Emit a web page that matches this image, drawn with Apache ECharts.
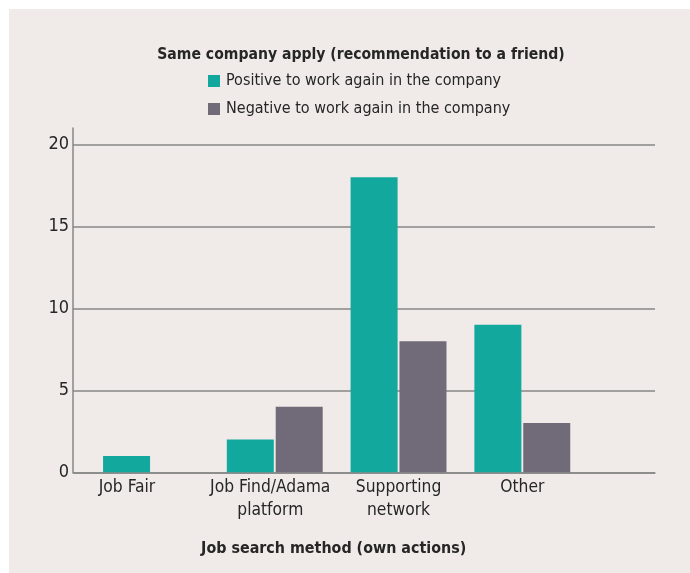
<!DOCTYPE html>
<html>
<head>
<meta charset="utf-8">
<script src="https://cdn.jsdelivr.net/npm/echarts@6/dist/echarts.min.js"></script>
<style>
  html, body { margin: 0; padding: 0; background: #ffffff; }
  #chart { position: absolute; left: 9px; top: 9px; width: 681px; height: 564px; }
</style>
</head>
<body>
<div id="chart"></div>
<script>
// Job search methods on the category axis
const categories = ['Job Fair', 'Job Find/Adama platform', 'Supporting network', 'Other'];
// Respondents counted per answer
const positiveValues = [1, 2, 18, 9];
const negativeValues = [0, 4, 8, 3];
const seriesNames = ['Positive to work again in the company', 'Negative to work again in the company'];
const yTicks = [0, 5, 10, 15, 20];

const FONT = '"DejaVu Sans Condensed", "Liberation Sans", sans-serif';
const TEXT = '#262626';
const GRID_LINE = '#878787';
const TEAL = '#13a89e';
const GREY = '#716a78';

// label wrapping and horizontal nudges for the category labels
const labelLines = {
  'Job Fair': ['Job Fair'],
  'Job Find/Adama platform': ['Job Find/Adama', 'platform'],
  'Supporting network': ['Supporting', 'network'],
  'Other': ['Other']
};
const labelShiftLeft = { 'Job Fair': 48, 'Job Find/Adama platform': 9, 'Supporting network': 0, 'Other': 0 };

const yMax = 21;
const gridTop = 119, gridBottom = 100.7;
const LABEL_SIZE = 17.3;

const chart = echarts.init(document.getElementById('chart'), null, { renderer: 'canvas' });

// one colour per split line; the extra line at the axis top stays hidden
const splitColors = yTicks.map(() => GRID_LINE).concat(['rgba(0,0,0,0)']);

const richLabels = Object.fromEntries(Object.values(labelShiftLeft).map(p => ['t' + p, {
  fontFamily: FONT, fontSize: LABEL_SIZE, color: TEXT, lineHeight: 23, padding: [0, p, 0, 0]
}]));

chart.setOption({
  backgroundColor: '#f0ebe8',
  animation: false,
  textStyle: { fontFamily: FONT },
  title: {
    text: 'Same company apply (recommendation to a friend)',
    left: 352,
    top: 36,
    padding: 0,
    textAlign: 'center',
    textStyle: { fontFamily: FONT, fontSize: 15.6, fontWeight: 'bold', color: TEXT, lineHeight: 20 }
  },
  legend: {
    orient: 'vertical',
    left: 199,
    top: 62,
    padding: 0,
    itemWidth: 12,
    itemHeight: 12,
    itemGap: 8,
    icon: 'rect',
    data: seriesNames,
    textStyle: { fontFamily: FONT, fontSize: 16, color: TEXT, lineHeight: 20, padding: [0, 0, 0, 1] }
  },
  grid: [
    { left: 64, right: 35, top: gridTop, bottom: gridBottom },
    { left: 80.1, right: 105.8, top: gridTop, bottom: gridBottom }
  ],
  xAxis: [
    {
      gridIndex: 0, type: 'value', min: 0, max: 1,
      axisLine: { show: true, lineStyle: { color: GRID_LINE, width: 1.5 } },
      axisTick: { show: false }, axisLabel: { show: false }, splitLine: { show: false }
    },
    {
      gridIndex: 1, type: 'category', data: categories,
      axisLine: { show: false }, axisTick: { show: false },
      axisLabel: {
        margin: 4,
        interval: 0,
        formatter: function (v) {
          const pad = labelShiftLeft[v] || 0;
          return labelLines[v].map(l => '{t' + pad + '|' + l + '}').join('\n');
        },
        rich: richLabels
      },
      name: 'Job search method (own actions)',
      nameLocation: 'middle',
      nameGap: 67,
      nameTextStyle: { fontFamily: FONT, fontSize: 15.9, fontWeight: 'bold', color: TEXT, lineHeight: 20, padding: [0, 6, 0, 0] }
    }
  ],
  yAxis: [
    {
      gridIndex: 0, type: 'value', min: 0, max: yMax, interval: 5,
      axisLine: { show: true, lineStyle: { color: GRID_LINE, width: 1.5 } },
      axisTick: { show: false },
      axisLabel: { showMaxLabel: false, margin: 4, fontFamily: FONT, fontSize: 18, color: TEXT },
      splitLine: { show: true, lineStyle: { color: splitColors, width: 1.5 } }
    },
    {
      gridIndex: 1, type: 'value', min: 0, max: yMax, interval: 5, show: false
    }
  ],
  series: [
    {
      name: seriesNames[0], type: 'bar', xAxisIndex: 1, yAxisIndex: 1,
      data: positiveValues, barWidth: 47, barGap: '4%',
      itemStyle: { color: TEAL }
    },
    {
      name: seriesNames[1], type: 'bar', xAxisIndex: 1, yAxisIndex: 1,
      data: negativeValues, barWidth: 47, barGap: '4%',
      itemStyle: { color: GREY }
    }
  ]
});
</script>
</body>
</html>
